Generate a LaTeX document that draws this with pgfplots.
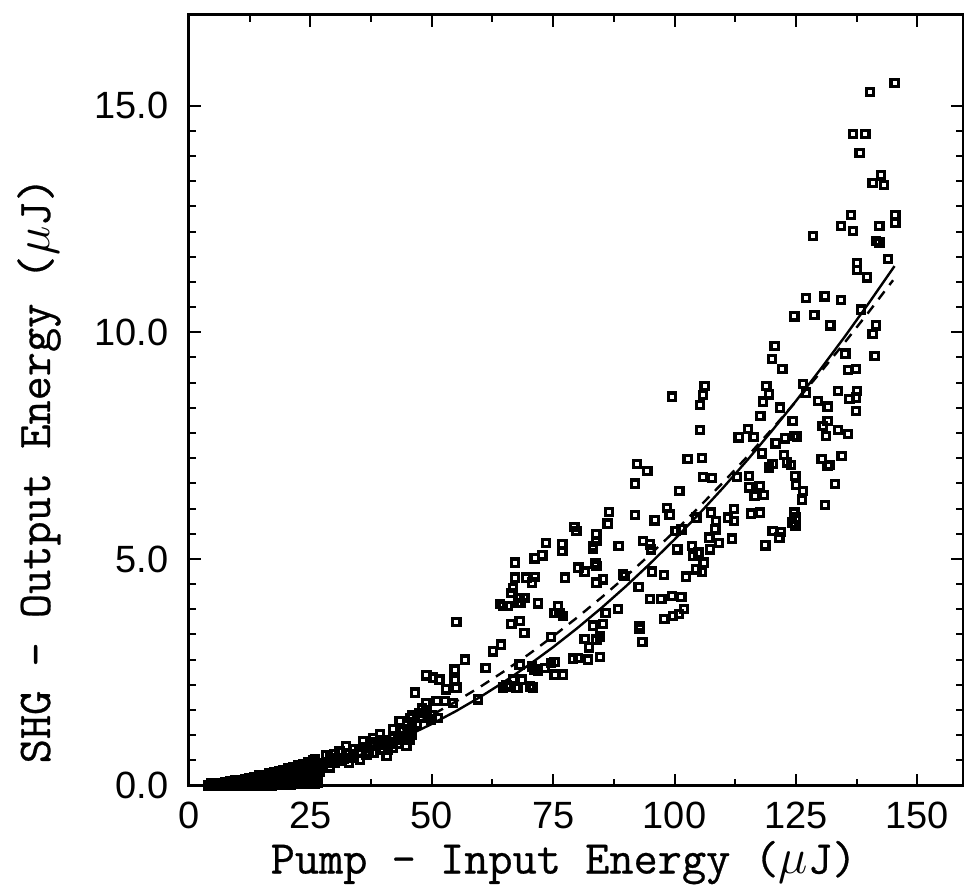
\documentclass[border=0pt]{standalone}
\usepackage{pgfplots}
\usepackage{pgfplotstable}
\pgfplotsset{compat=1.18}
\usepackage{fontspec}
\setmainfont{Liberation Sans}
\newfontfamily\labelfont{Latin Modern Mono}[FakeBold=0.6]

\pgfplotstableread{
x y
145.3 15.50
140.3 15.30
136.8 14.37
139.3 14.37
138.1 13.95
142.5 13.46
140.8 13.29
143.1 13.25
136.3 12.59
134.3 12.34
136.7 12.24
142.2 12.34
145.5 12.59
145.5 12.41
128.5 12.12
141.5 12.01
142.2 11.98
144.0 11.61
137.6 11.53
137.6 11.38
139.6 11.21
127.1 10.75
130.9 10.79
134.3 10.71
124.7 10.35
128.8 10.38
132.1 10.15
138.4 10.50
141.5 10.15
140.8 9.96
120.6 9.70
120.1 9.41
122.2 9.19
135.2 9.53
141.2 9.48
135.7 9.17
137.4 9.19
118.9 8.82
126.4 8.86
106.2 8.82
133.6 8.71
137.6 8.71
119.5 8.63
127.1 8.67
136.0 8.53
137.4 8.56
137.4 8.26
118.2 8.47
121.7 8.34
129.5 8.49
131.5 8.36
117.7 8.15
124.3 8.04
131.5 8.04
130.5 7.93
131.2 7.71
133.6 7.84
135.7 7.75
115.1 7.86
116.3 7.69
113.2 7.68
122.8 7.66
124.7 7.71
125.2 7.70
120.8 7.55
118.0 7.33
130.3 7.21
131.5 7.05
131.9 7.07
134.4 7.27
122.6 7.29
123.1 7.13
124.0 7.07
120.2 7.09
119.4 7.02
102.7 7.20
105.6 7.22
99.5 8.58
105.8 8.62
105.3 8.40
105.3 7.84
115.3 6.83
112.9 6.81
105.8 6.81
107.7 6.79
124.9 6.83
125.0 6.64
126.4 6.50
126.2 6.31
115.4 6.58
117.5 6.60
116.5 6.39
118.4 6.41
133.1 6.65
131.0 6.19
101.0 6.50
92.3 7.09
94.4 6.94
91.9 6.66
86.5 6.04
86.2 5.78
91.8 5.97
95.9 5.85
98.5 6.13
99.0 5.98
104.5 5.91
107.5 6.02
108.6 5.84
108.4 5.65
111.0 5.91
112.2 6.10
112.2 5.84
115.8 6.00
117.6 6.02
124.7 6.02
125.0 5.91
124.2 5.80
124.9 5.72
120.2 5.62
121.9 5.60
121.6 5.47
118.7 5.30
100.2 5.62
101.4 5.65
107.2 5.47
109.1 5.35
107.3 5.21
111.8 5.45
103.6 5.28
104.8 5.14
103.8 5.06
105.1 5.14
100.6 5.21
93.5 5.40
94.9 5.32
95.2 5.21
88.5 5.28
83.9 5.54
83.2 5.28
83.9 5.40
83.2 5.23
79.4 5.71
79.8 5.62
73.5 5.35
76.9 5.32
76.9 5.17
71.2 5.01
72.8 5.08
67.1 4.92
83.7 4.90
83.9 4.84
80.2 4.81
81.5 4.72
77.4 4.59
83.9 4.48
85.3 4.55
67.1 4.59
69.5 4.59
71.2 4.60
70.7 4.48
66.7 4.36
66.3 4.25
68.1 4.14
69.1 4.14
68.4 4.03
71.9 4.02
64.7 3.96
76.0 3.96
76.3 3.81
77.0 3.74
75.3 3.81
89.4 4.66
89.7 4.62
92.6 4.38
95.4 4.72
97.8 4.64
88.3 3.90
85.8 3.81
83.2 3.53
85.3 3.56
84.6 3.29
83.9 3.22
81.5 3.24
82.4 3.05
79.1 2.80
80.1 2.82
82.2 2.78
84.6 2.84
74.6 3.28
75.3 2.73
77.0 2.45
75.3 2.45
71.9 2.54
73.3 2.60
74.6 2.71
68.1 2.67
70.7 2.63
71.2 2.56
66.7 2.34
68.5 2.34
70.2 2.19
70.9 2.16
67.4 2.16
65.4 2.21
92.8 3.52
92.8 3.45
93.4 3.17
95.0 4.11
97.3 4.11
99.5 4.18
101.4 4.16
97.9 3.68
99.7 3.74
100.9 3.78
101.9 3.89
102.3 4.61
104.5 4.77
105.7 4.71
106.0 4.92
64.0 4.00
65.7 3.96
67.8 4.03
55.1 3.61
66.4 3.56
68.1 3.63
69.1 3.37
62.6 2.96
64.3 3.11
56.8 2.78
61.1 2.60
48.9 2.43
50.3 2.38
51.6 2.34
54.7 2.56
54.7 2.34
55.1 2.16
53.0 2.12
46.5 2.05
48.9 1.82
51.0 1.86
52.7 1.86
54.4 1.82
59.5 1.90
64.7 2.16
66.0 2.19
67.8 2.16
43.4 1.42
45.5 1.49
47.5 1.60
49.9 1.46
51.3 1.49
45.1 1.24
45.5 1.02
39.3 1.13
37.9 1.05
32.4 0.87
35.9 0.98
37.9 0.87
40.0 0.80
42.0 0.83
44.8 0.87
28.3 0.68
33.8 0.65
35.2 0.57
36.6 0.68
40.7 0.65
27.0 0.45
27.0 0.30
28.0 0.50
29.0 0.40
29.0 0.60
30.0 0.50
30.0 0.70
31.0 0.55
31.0 0.75
32.0 0.60
33.0 0.70
33.0 0.50
34.0 0.80
34.0 0.62
35.0 0.75
36.0 0.85
37.0 0.75
38.0 0.95
38.0 0.72
39.0 0.90
40.0 1.00
41.0 0.95
41.0 0.78
42.0 1.05
43.0 1.10
43.0 0.92
44.0 1.20
45.0 1.05
46.0 1.30
46.0 1.12
47.0 1.35
48.0 1.50
46.0 1.55
48.0 1.70
42.0 1.25
44.0 1.00
49.0 1.60
50.0 1.55
4.0 0.00
4.5 0.05
5.0 0.00
5.5 0.06
6.0 0.01
6.5 0.06
7.0 0.00
7.5 0.07
8.0 0.02
8.5 0.09
9.0 0.00
9.0 0.06
9.5 0.11
10.0 0.02
10.5 0.12
11.0 0.00
11.0 0.07
11.5 0.15
12.0 0.03
12.5 0.16
13.0 0.00
13.0 0.09
13.5 0.19
14.0 0.02
14.0 0.12
14.5 0.22
15.0 0.00
15.0 0.10
15.5 0.24
16.0 0.04
16.0 0.15
16.5 0.27
17.0 0.00
17.0 0.12
17.5 0.29
18.0 0.05
18.0 0.18
18.5 0.32
19.0 0.02
19.0 0.14
19.5 0.35
20.0 0.03
20.0 0.20
20.5 0.38
21.0 0.02
21.0 0.12
21.0 0.26
21.5 0.41
22.0 0.05
22.0 0.18
22.0 0.30
22.5 0.44
23.0 0.03
23.0 0.12
23.0 0.30
23.5 0.47
24.0 0.04
24.0 0.22
24.0 0.36
24.5 0.51
25.0 0.03
25.0 0.15
25.0 0.35
25.5 0.55
26.0 0.05
26.0 0.12
26.0 0.25
26.0 0.42
26.0 0.58
26.5 0.06
26.5 0.20
26.5 0.35
26.5 0.50
}\scatterdata

\pgfplotstableread{
x y
5 0.0136
10 0.0543
15 0.122
20 0.217
25 0.339
30 0.489
35 0.665
40 0.869
45 1.100
50 1.358
55 1.643
60 1.955
65 2.294
70 2.661
75 3.054
80 3.475
85 3.923
90 4.398
95 4.901
100 5.430
105 5.987
110 6.570
115 7.181
120 7.819
125 8.484
130 9.177
135 9.896
140 10.643
145.3 11.46
}\solidfit

\pgfplotstableread{
x y
5 0.0220
10 0.0792
15 0.1677
20 0.2856
25 0.4315
30 0.6047
35 0.804
40 1.0295
45 1.280
50 1.555
55 1.855
60 2.179
65 2.528
70 2.898
75 3.293
80 3.712
85 4.153
90 4.615
95 5.100
100 5.608
105 6.138
110 6.688
115 7.261
120 7.856
125 8.472
130 9.110
135 9.769
140 10.448
145 11.149
}\dashedfit

\begin{document}
\begin{tikzpicture}
\begin{axis}[
  scale only axis,
  width=387.25pt, height=385.5pt,
  xmin=0, xmax=159.4, ymin=0, ymax=17,
  axis line style={line width=1.5pt},
  xtick={0,25,50,75,100,125,150},
  ytick={0,5,10,15},
  minor x tick num=1,
  minor y tick num=8,
  tick align=inside,
  xtick pos=both, ytick pos=both,
  xticklabel pos=lower, yticklabel pos=left,
  major tick length=6pt,
  minor tick length=3.5pt,
  every tick/.style={black, line width=1pt},
  /pgf/number format/assume math mode=true,
  ticklabel style={font=\fontsize{19}{19}\selectfont, inner sep=0pt},
  xticklabel style={yshift=-8pt},
  yticklabel style={xshift=-10pt, /pgf/number format/fixed, /pgf/number format/fixed zerofill, /pgf/number format/precision=1},
  xlabel={Pump - Input Energy ($\mu$J)},
  ylabel={SHG - Output Energy ($\mu$J)},
  label style={font=\labelfont\fontsize{23.5}{23.5}\selectfont, inner sep=0pt},
  xlabel style={at={([yshift=-44pt]axis description cs:0.484,0)}, anchor=base},
  ylabel style={at={([xshift=-69.5pt]axis description cs:0,0.409)}, anchor=base},
  clip=false,
]
\addplot[only marks, mark=square, mark size=1.8pt, mark options={line width=1.6pt, black}] table[x=x,y=y] {\scatterdata};
\addplot[black, line width=1.2pt, no marks] table[x=x,y=y] {\solidfit};
\addplot[black, line width=1.2pt, no marks, dash pattern=on 5pt off 4pt] table[x=x,y=y] {\dashedfit};
\end{axis}
\pgfresetboundingbox
\path[use as bounding box] ([shift={(-94.5pt,-50pt)}]current axis.south west) rectangle ([shift={(0.5pt,7.5pt)}]current axis.north east);
\end{tikzpicture}
\end{document}
